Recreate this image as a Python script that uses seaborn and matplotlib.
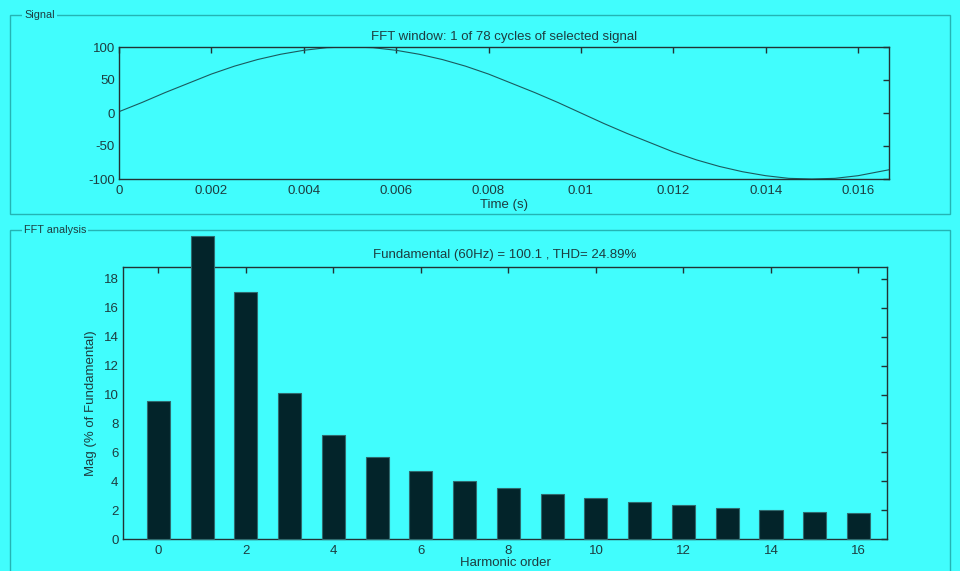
import numpy as np
import pandas as pd
import matplotlib
matplotlib.use("Agg")
import matplotlib.pyplot as plt
import seaborn as sns
from matplotlib.patches import Rectangle

# Signal window
time_s = [0, 0.0005, 0.001, 0.0015, 0.002, 0.0025, 0.003, 0.0035, 0.004, 0.0045,
          0.005, 0.0055, 0.006, 0.0065, 0.007, 0.0075, 0.008, 0.0085, 0.009, 0.0095,
          0.01, 0.0105, 0.011, 0.0115, 0.012, 0.0125, 0.013, 0.0135, 0.014, 0.0145,
          0.015, 0.0155, 0.016, 0.01667]
signal = [2, 16, 31, 45, 59, 71, 81, 89, 95, 99,
          100, 99, 95, 89, 81, 71, 59, 45, 31, 16,
          0, -16, -31, -45, -59, -71, -81, -89, -95, -99,
          -100, -99, -95, -86]

# FFT spectrum
harmonic_order = list(range(17))
magnitude = [9.55, 20.95, 17.1, 10.1, 7.23, 5.71, 4.69, 4.04, 3.53, 3.12,
             2.82, 2.56, 2.33, 2.15, 2.03, 1.89, 1.78]

time_ticks = [0, 0.002, 0.004, 0.006, 0.008, 0.01, 0.012, 0.014, 0.016]
time_tick_labels = ["0", "0.002", "0.004", "0.006", "0.008", "0.01", "0.012", "0.014", "0.016"]

bg = "#41fdfd"
frame_col = "#24b4b4"
ink = "#1d3d40"
bar_col = "#03242a"

sns.set_theme(style="white")
plt.rcParams['font.family'] = ['Liberation Sans', 'DejaVu Sans']
plt.rcParams.update({
    "axes.facecolor": bg, "figure.facecolor": bg,
    "axes.edgecolor": "#223235", "axes.linewidth": 1.0,
    "text.color": ink, "axes.labelcolor": ink,
    "xtick.color": "#223235", "ytick.color": "#223235",
    "xtick.labelcolor": ink, "ytick.labelcolor": ink,
    "xtick.direction": "in", "ytick.direction": "in",
    "xtick.top": True, "ytick.right": True,
    "xtick.major.size": 4, "ytick.major.size": 4,
    "xtick.major.width": 1.0, "ytick.major.width": 1.0,
    "font.size": 9.5, "axes.labelsize": 9.5, "axes.titlesize": 9.5,
    "xtick.labelsize": 9.5, "ytick.labelsize": 9.5,
    "axes.unicode_minus": False,
})

fig = plt.figure(figsize=(9.6, 5.71), dpi=100)

# panel frames
W, H = 960, 571
def frame(x0, y0, x1, y1, label):
    fig.patches.append(Rectangle((x0 / W, 1 - y1 / H), (x1 - x0) / W, (y1 - y0) / H,
                                 transform=fig.transFigure, fill=False,
                                 edgecolor=frame_col, linewidth=1.0))
    fig.text(24 / W, 1 - y0 / H, label, fontsize=7.8, color=ink, va="center", ha="left",
             bbox=dict(facecolor=bg, edgecolor="none", pad=1.5))

frame(10, 15, 950, 214, "Signal")
frame(10, 230, 950, 590, "FFT analysis")

# top: signal
ax1 = fig.add_axes([119 / W, 1 - 179 / H, (889 - 119) / W, (179 - 47) / H])
sig_df = pd.DataFrame({"t": time_s, "v": signal})
sns.lineplot(data=sig_df, x="t", y="v", ax=ax1, color="#1b5a5e", linewidth=0.8)
ax1.set_xlim(0, 0.01667)
ax1.set_ylim(-100, 100)
ax1.set_xticks(time_ticks)
ax1.set_xticklabels(time_tick_labels)
ax1.set_yticks([-100, -50, 0, 50, 100])
ax1.set_xlabel("Time (s)", labelpad=1.5)
ax1.set_ylabel("")
ax1.set_title("FFT window: 1 of 78 cycles of selected signal", pad=5, color=ink)
ax1.tick_params(axis="x", pad=4)
ax1.tick_params(axis="y", pad=3)

# bottom: FFT bars
ax2 = fig.add_axes([122.7 / W, 1 - 539 / H, (887.3 - 122.7) / W, (539 - 266.7) / H])
fft_df = pd.DataFrame({"order": harmonic_order, "mag": magnitude})
sns.barplot(data=fft_df, x="order", y="mag", ax=ax2, native_scale=True, width=0.53,
            color=bar_col, edgecolor="#2f6a6e", linewidth=0.8, saturation=1,
            clip_on=False, zorder=3)
ax2.set_xlim(-0.815, 16.66)
ax2.set_ylim(0, 18.85)
ax2.set_xticks(list(range(0, 17, 2)))
ax2.set_yticks(list(range(0, 19, 2)))
ax2.set_xlabel("Harmonic order", labelpad=0)
ax2.set_ylabel("Mag (% of Fundamental)", labelpad=5)
ax2.set_title("Fundamental (60Hz) = 100.1 , THD= 24.89%", pad=6, color=ink)
ax2.tick_params(axis="x", pad=4)
ax2.tick_params(axis="y", pad=3)

fig.savefig("out.png", dpi=100, facecolor=bg)
